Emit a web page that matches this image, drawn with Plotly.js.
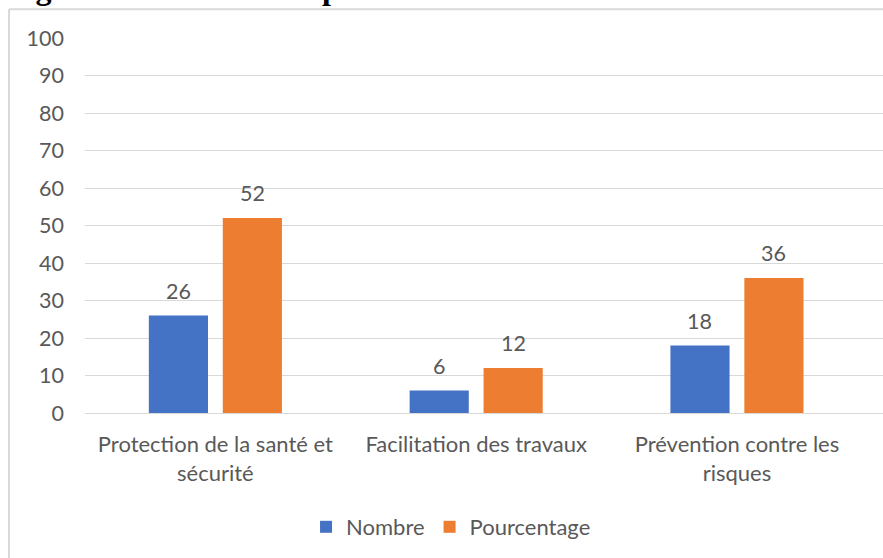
<!DOCTYPE html>
<html>
<head>
<meta charset="utf-8">
<script src="https://cdn.plot.ly/plotly-3.0.1.min.js"></script>
<style>html,body{margin:0;padding:0;background:#fff;}#chart{width:883px;height:558px;}</style>
</head>
<body>
<div id="chart"></div>
<script>
const categories = ["Protection de la santé et<br>sécurité", "Facilitation des travaux", "Prévention contre les<br>risques"];
const nombre = [26, 6, 18];
const pourcentage = [52, 12, 36];
const seriesNames = ["Nombre", "Pourcentage"];
const yTicks = [0, 10, 20, 30, 40, 50, 60, 70, 80, 90, 100];
const titleText = "Figure 14 : Raisons du port des EPI";

const font = "Lato, 'Open Sans', sans-serif";
const grey = "#595959";

const traces = [
  {type: "bar", x: categories, y: nombre, name: seriesNames[0], marker: {color: "#4472C4"}},
  {type: "bar", x: categories, y: pourcentage, name: seriesNames[1], marker: {color: "#ED7D31"}}
];

const labelAnns = [];
[nombre, pourcentage].forEach((series, si) => {
  series.forEach((v, i) => {
    labelAnns.push({x: categories[i], y: v, xref: "x", yref: "y", text: String(v),
      showarrow: false, xanchor: "center", yanchor: "middle",
      xshift: si === 0 ? -37 : 37, yshift: 25,
      font: {family: font, size: 21.5, color: grey}});
  });
});

const layout = {
  width: 883, height: 558,
  margin: {l: 85, r: 0, t: 38, b: 145, pad: 0},
  paper_bgcolor: "#fff", plot_bgcolor: "#fff",
  barmode: "group", bargap: 0.433, bargroupgap: 0.2,
  font: {family: font, size: 21.5, color: grey},
  xaxis: {type: "category", range: [-0.5, 2.56], showgrid: false, showline: true,
          linecolor: "#d9d9d9", linewidth: 1, ticks: "", tickfont: {family: font, size: 22, color: grey},
          ticklabelstandoff: 12, fixedrange: true},
  yaxis: {range: [0, 100], tickvals: yTicks, ticktext: yTicks.map(String), showgrid: true,
          gridcolor: "#d9d9d9", gridwidth: 1, zeroline: false, showline: false, ticks: "",
          tickfont: {family: font, size: 21.5, color: grey}, ticklabelstandoff: 20, fixedrange: true},
  showlegend: true,
  legend: {orientation: "h", x: 0.277, xanchor: "left", y: -0.304, yanchor: "middle",
           font: {family: font, size: 22, color: grey}, itemwidth: 30, traceorder: "normal"},
  shapes: [
    {type: "line", xref: "paper", yref: "paper", x0: -0.0952, x1: -0.0952, y0: 1.077, y1: -0.5,
     line: {color: "#d9d9d9", width: 2}},
    {type: "line", xref: "paper", yref: "paper", x0: -0.0952, x1: 1.2, y0: 1.077, y1: 1.077,
     line: {color: "#d9d9d9", width: 2}}
  ],
  annotations: [
    {text: "<b>" + titleText + "</b>", xref: "paper", yref: "paper", x: -0.1, y: 1.08,
     xanchor: "left", yanchor: "bottom", showarrow: false,
     font: {family: "'Liberation Serif', serif", size: 32, color: "#000"}}
  ].concat(labelAnns)
};

Plotly.newPlot("chart", traces, layout, {displayModeBar: false, staticPlot: true});
</script>
</body>
</html>
